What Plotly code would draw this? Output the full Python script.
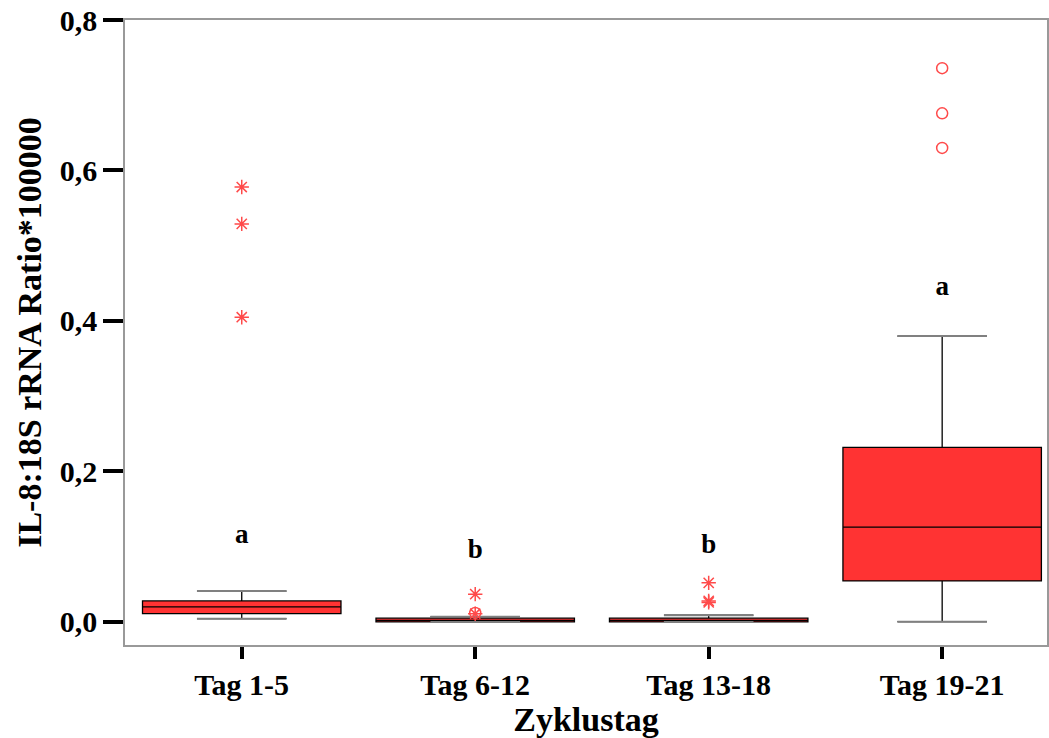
import plotly.graph_objects as go

# Cycle-day groups
categories = ["Tag 1-5", "Tag 6-12", "Tag 13-18", "Tag 19-21"]

# Box summary statistics (IL-8:18S rRNA ratio * 100000)
q1 = [0.011, 0.0, 0.0, 0.0545]
median = [0.020, 0.002, 0.002, 0.126]
q3 = [0.028, 0.005, 0.005, 0.232]
lower_whisker = [0.0044, 0.0, 0.0, 0.0004]
upper_whisker = [0.041, 0.007, 0.009, 0.380]

# Outliers (circles) and extreme values (asterisks)
outlier_cat = ["Tag 6-12", "Tag 19-21", "Tag 19-21", "Tag 19-21"]
outlier_val = [0.012, 0.630, 0.676, 0.736]
extreme_cat = ["Tag 1-5", "Tag 1-5", "Tag 1-5",
               "Tag 6-12", "Tag 6-12",
               "Tag 13-18", "Tag 13-18", "Tag 13-18"]
extreme_val = [0.405, 0.529, 0.578,
               0.011, 0.037,
               0.026, 0.028, 0.052]

# Significance letters
letters = ["a", "b", "b", "a"]
letter_pos = [0.114, 0.094, 0.100, 0.444]

FONT = "Liberation Serif"
BOX_RED = "#ff3333"
POINT_RED = "#ff4a4a"
CAP_GRAY = "#808080"

fig = go.Figure()

fig.add_trace(go.Box(
    x=categories,
    q1=q1, median=median, q3=q3,
    lowerfence=lower_whisker, upperfence=upper_whisker,
    width=0.85,
    fillcolor=BOX_RED,
    line=dict(color="black", width=1.3),
    whiskerwidth=0.45,
    boxpoints=False,
    hoverinfo="skip",
    showlegend=False,
))

# grey whisker caps drawn over the box trace's caps
fig.add_trace(go.Scatter(
    x=categories + categories,
    y=upper_whisker + lower_whisker,
    mode="markers",
    marker=dict(symbol="line-ew-open", size=64, color=CAP_GRAY,
                line=dict(color=CAP_GRAY, width=2)),
    showlegend=False, hoverinfo="skip",
))

fig.add_trace(go.Scatter(
    x=extreme_cat, y=extreme_val, mode="markers",
    marker=dict(symbol="asterisk-open", size=12, color=POINT_RED,
                line=dict(color=POINT_RED, width=1.5)),
    showlegend=False, hoverinfo="skip",
))

fig.add_trace(go.Scatter(
    x=outlier_cat, y=outlier_val, mode="markers",
    marker=dict(symbol="circle-open", size=11, color=POINT_RED,
                line=dict(color=POINT_RED, width=1.5)),
    showlegend=False, hoverinfo="skip",
))

fig.add_trace(go.Scatter(
    x=categories, y=letter_pos, mode="text", text=letters,
    textfont=dict(family=FONT, size=27, color="black", weight="bold"),
    showlegend=False, hoverinfo="skip",
))

fig.update_layout(
    width=1049, height=738,
    margin=dict(l=125, r=0, t=20, b=93),
    paper_bgcolor="white", plot_bgcolor="white",
    separators=", ",
    font=dict(family=FONT, color="black"),
)

fig.update_xaxes(
    type="category",
    range=[-0.5, 3.449],
    showline=True, linecolor="#999999", linewidth=1.5,
    mirror=True,
    ticks="outside", ticklen=12, tickwidth=4, tickcolor="black",
    tickfont=dict(family=FONT, size=30, color="black", weight="bold"),
    title=dict(text="Zyklustag", standoff=4,
               font=dict(family=FONT, size=34, color="black", weight="bold")),
    showgrid=False, zeroline=False,
)

fig.update_yaxes(
    range=[-0.0306, 0.8],
    tickvals=[0.0, 0.2, 0.4, 0.6, 0.8],
    tickformat=".1f",
    showline=True, linecolor="#999999", linewidth=1.5,
    mirror=True,
    ticks="outside", ticklen=20, tickwidth=4, tickcolor="black",
    tickfont=dict(family=FONT, size=30, color="black", weight="bold"),
    title=dict(text="IL-8:18S rRNA Ratio*100000", standoff=8,
               font=dict(family=FONT, size=34, color="black", weight="bold")),
    showgrid=False, zeroline=False,
)

fig.write_html("out.html")
